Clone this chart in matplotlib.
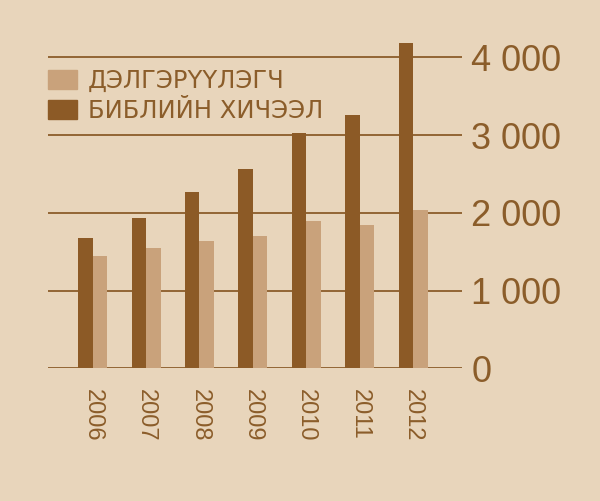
import matplotlib.pyplot as plt
from matplotlib.patches import Patch
from matplotlib.transforms import IdentityTransform
import numpy as np

years = ["2006", "2007", "2008", "2009", "2010", "2011", "2012"]
bible_studies = [1676, 1937, 2263, 2563, 3030, 3254, 4188]   # БИБЛИЙН ХИЧЭЭЛ
publishers = [1444, 1543, 1641, 1702, 1899, 1843, 2036]      # ДЭЛГЭРҮҮЛЭГЧ
ticks = [0, 1000, 2000, 3000, 4000]
tick_labels = ["0", "1 000", "2 000", "3 000", "4 000"]

bg = "#e8d5bb"
dark = "#8c5a26"
light = "#c9a27b"
text_col = "#8b5d2a"

plt.rcParams['font.family'] = ['Liberation Sans', 'DejaVu Sans']

fig = plt.figure(figsize=(6, 5.01), dpi=100, facecolor=bg)
ax = fig.add_axes([0.0805, 0.2649, 0.689, 0.667])
ax.set_facecolor(bg)

x = np.arange(len(years))
w = 0.27
ax.bar(x, bible_studies, width=-w, align='edge', color=dark, zorder=3)
ax.bar(x, publishers, width=w, align='edge', color=light, zorder=3)

ax.set_xlim(-0.831, 6.91)
ax.set_ylim(0, 4300)

for s in ax.spines.values():
    s.set_visible(False)

ax.set_yticks(ticks)
ax.set_yticklabels(tick_labels)
ax.yaxis.tick_right()
ax.tick_params(axis='y', length=0, pad=7, labelsize=26, labelcolor=text_col)
ax.grid(axis='y', color=text_col, lw=1.3, zorder=1)
ax.set_axisbelow(True)

ax.set_xticks(x)
ax.set_xticklabels(years, rotation=270)
ax.tick_params(axis='x', length=0, pad=15, labelsize=17, labelcolor=text_col)

handles = [Patch(color=light), Patch(color=dark)]
leg = ax.legend(handles, ["ДЭЛГЭРҮҮЛЭГЧ", "БИБЛИЙН ХИЧЭЭЛ"], loc='upper left',
                bbox_to_anchor=(48, 501 - 69), bbox_transform=IdentityTransform(),
                frameon=False, prop={'family': 'DejaVu Sans', 'size': 17.5},
                labelcolor=text_col,
                handlelength=1.2, handleheight=0.78, handletextpad=0.45,
                labelspacing=0.25, borderpad=0, borderaxespad=0)

fig.savefig("out.png", dpi=100, facecolor=bg)
